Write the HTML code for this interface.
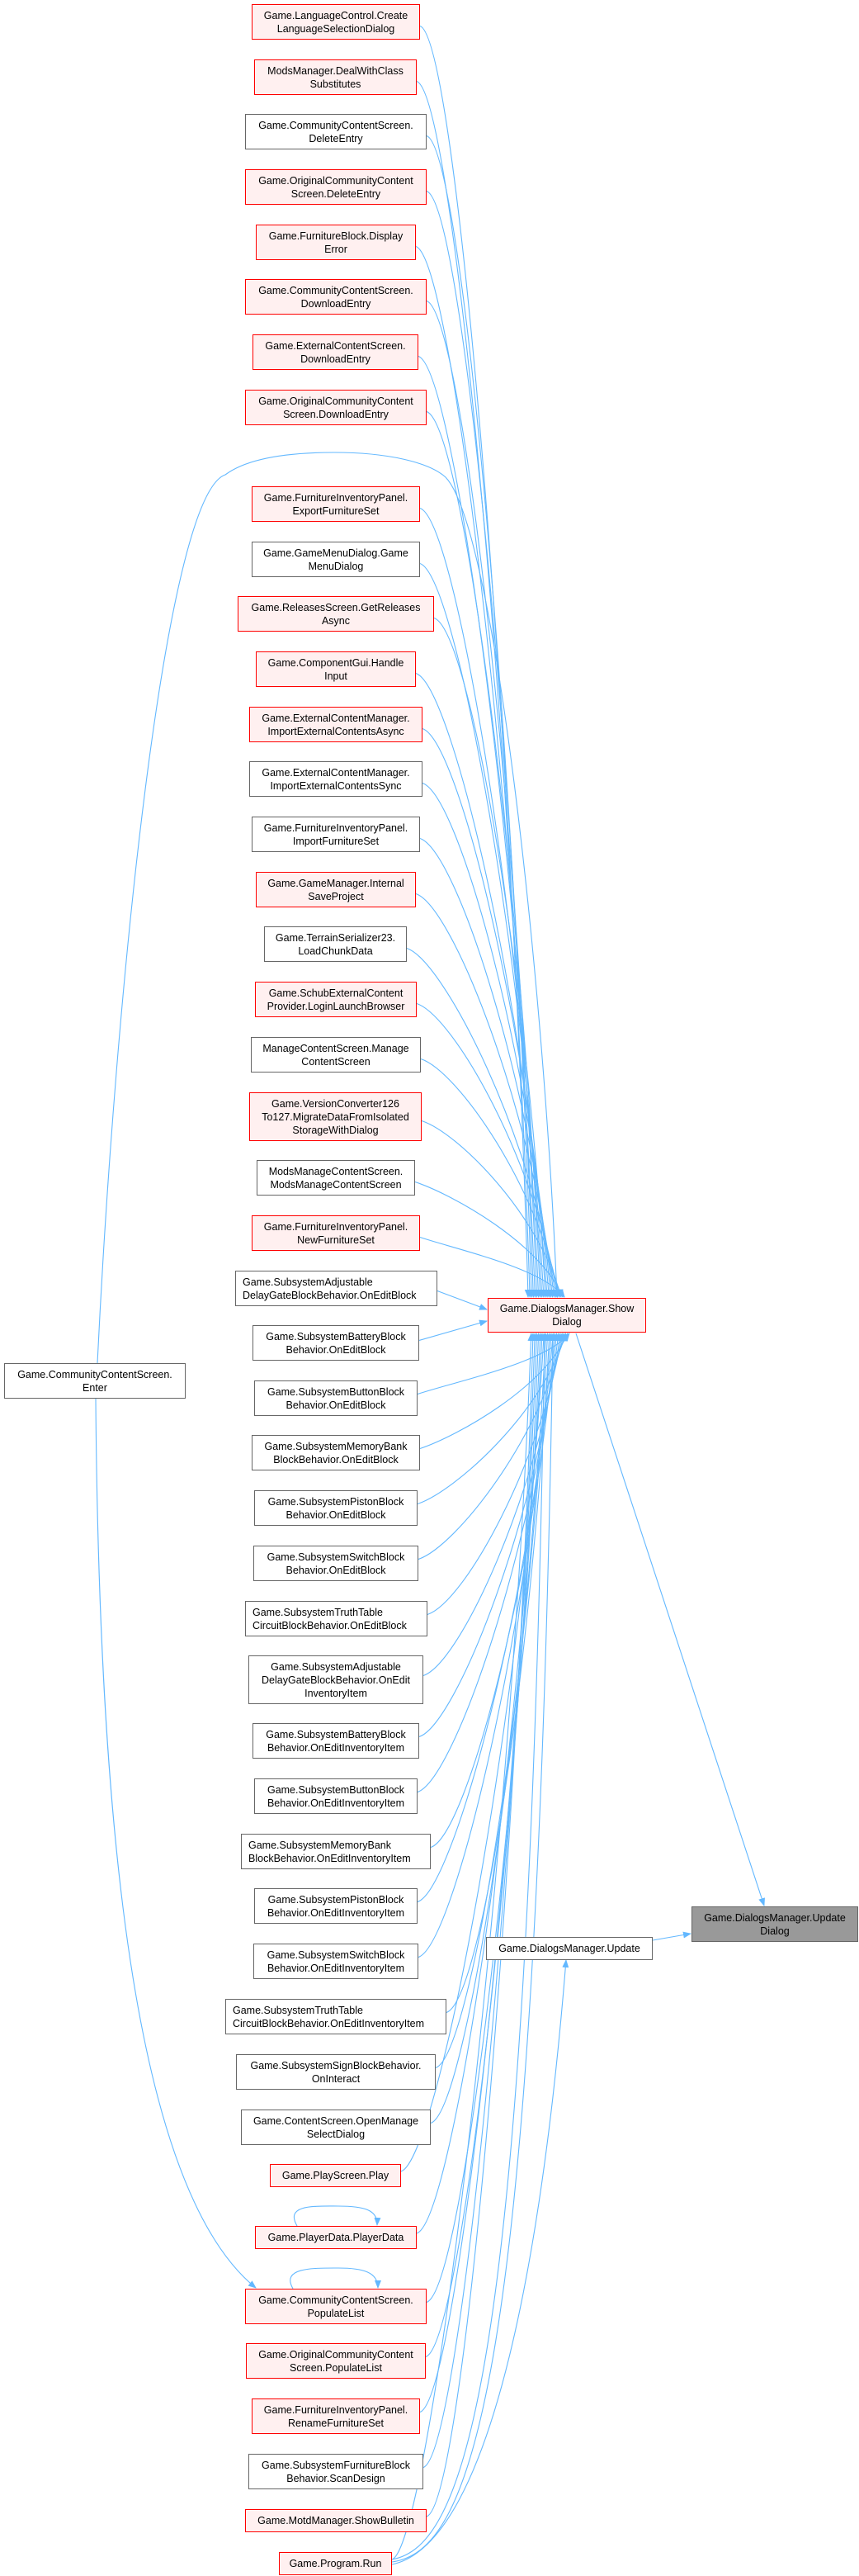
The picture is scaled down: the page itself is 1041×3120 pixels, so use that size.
<!DOCTYPE html>
<html><head><meta charset="utf-8">
<style>
html,body{margin:0;padding:0;background:#fff;}
#wrap{position:relative;width:1041px;height:3120px;overflow:hidden;}
svg{position:absolute;left:0;top:0;}
.n{position:absolute;box-sizing:border-box;border:1.3px solid #666;background:#fff;display:flex;flex-direction:column;justify-content:center;font-family:"Liberation Sans",Arial,sans-serif;font-size:12.5px;line-height:16px;color:#000;text-align:center;white-space:nowrap;padding:0 8px;}
.n.r{border-color:#ff0000;background:#fff0f0;}
.n.l{text-align:left;}
.n.g{background:#999;border-color:#666;}
</style></head><body>
<div id="wrap">
<svg id="s" width="1041" height="3120" xmlns="http://www.w3.org/2000/svg">
<defs><marker id="a" markerWidth="10" markerHeight="8" refX="9" refY="4" orient="auto" markerUnits="userSpaceOnUse"><path d="M0,0 L10,4 L0,8 z" fill="#63b8ff"/></marker></defs>
<g id="e" fill="none" stroke="#63b8ff" stroke-width="1.1"></g>
</svg>
</div>
<script>
var N=[
[5,305,509,["Game.LanguageControl.Create","LanguageSelectionDialog"],1],
[72,308,505,["ModsManager.DealWithClass","Substitutes"],1],
[138,297,517,["Game.CommunityContentScreen.","DeleteEntry"],0],
[205,297,517,["Game.OriginalCommunityContent","Screen.DeleteEntry"],1],
[272,310,504,["Game.FurnitureBlock.Display","Error"],1],
[338,297,517,["Game.CommunityContentScreen.","DownloadEntry"],1],
[405,306,507,["Game.ExternalContentScreen.","DownloadEntry"],1],
[472,297,517,["Game.OriginalCommunityContent","Screen.DownloadEntry"],1],
[589,305,509,["Game.FurnitureInventoryPanel.","ExportFurnitureSet"],1],
[656,305,509,["Game.GameMenuDialog.Game","MenuDialog"],0],
[722,288,526,["Game.ReleasesScreen.GetReleases","Async"],1],
[789,310,504,["Game.ComponentGui.Handle","Input"],1],
[856,302,512,["Game.ExternalContentManager.","ImportExternalContentsAsync"],1],
[922,302,512,["Game.ExternalContentManager.","ImportExternalContentsSync"],0],
[989,305,509,["Game.FurnitureInventoryPanel.","ImportFurnitureSet"],0],
[1056,310,504,["Game.GameManager.Internal","SaveProject"],1],
[1122,320,493,["Game.TerrainSerializer23.","LoadChunkData"],0],
[1189,309,505,["Game.SchubExternalContent","Provider.LoginLaunchBrowser"],1],
[1256,304,510,["ManageContentScreen.Manage","ContentScreen"],0],
[1323,302,511,["Game.VersionConverter126","To127.MigrateDataFromIsolated","StorageWithDialog"],1],
[1405,311,503,["ModsManageContentScreen.","ModsManageContentScreen"],0],
[1472,305,509,["Game.FurnitureInventoryPanel.","NewFurnitureSet"],1],
[1539,285,530,["Game.SubsystemAdjustable","DelayGateBlockBehavior.OnEditBlock"],0,1],
[1605,306,508,["Game.SubsystemBatteryBlock","Behavior.OnEditBlock"],0],
[1672,308,506,["Game.SubsystemButtonBlock","Behavior.OnEditBlock"],0],
[1738,305,509,["Game.SubsystemMemoryBank","BlockBehavior.OnEditBlock"],0],
[1805,308,506,["Game.SubsystemPistonBlock","Behavior.OnEditBlock"],0],
[1872,307,507,["Game.SubsystemSwitchBlock","Behavior.OnEditBlock"],0],
[1939,297,518,["Game.SubsystemTruthTable","CircuitBlockBehavior.OnEditBlock"],0,1],
[2005,301,513,["Game.SubsystemAdjustable","DelayGateBlockBehavior.OnEdit","InventoryItem"],0],
[2087,306,508,["Game.SubsystemBatteryBlock","Behavior.OnEditInventoryItem"],0],
[2154,308,506,["Game.SubsystemButtonBlock","Behavior.OnEditInventoryItem"],0],
[2221,292,522,["Game.SubsystemMemoryBank","BlockBehavior.OnEditInventoryItem"],0,1],
[2287,308,506,["Game.SubsystemPistonBlock","Behavior.OnEditInventoryItem"],0],
[2354,307,507,["Game.SubsystemSwitchBlock","Behavior.OnEditInventoryItem"],0],
[2421,273,541,["Game.SubsystemTruthTable","CircuitBlockBehavior.OnEditInventoryItem"],0,1],
[2488,286,528,["Game.SubsystemSignBlockBehavior.","OnInteract"],0],
[2555,292,522,["Game.ContentScreen.OpenManage","SelectDialog"],0],
[2621,327,486,["Game.PlayScreen.Play"],1],
[2696,309,505,["Game.PlayerData.PlayerData"],1],
[2772,297,517,["Game.CommunityContentScreen.","PopulateList"],1],
[2838,298,516,["Game.OriginalCommunityContent","Screen.PopulateList"],1],
[2905,305,509,["Game.FurnitureInventoryPanel.","RenameFurnitureSet"],1],
[2972,301,513,["Game.SubsystemFurnitureBlock","Behavior.ScanDesign"],0],
[3039,297,517,["Game.MotdManager.ShowBulletin"],1],
[3091,338,475,["Game.Program.Run"],1]
];
var W=document.getElementById('wrap'),E=document.getElementById('e');
function box(t,l,r,lines,cls,h){var d=document.createElement('div');d.className='n '+cls;d.style.left=l+'px';d.style.top=t+'px';d.style.width=(r-l)+'px';d.style.height=h+'px';d.innerHTML=lines.join('<br>');W.appendChild(d);}
function path(d,arrow){var p=document.createElementNS('http://www.w3.org/2000/svg','path');p.setAttribute('d',d);if(arrow)p.setAttribute('marker-end','url(#a)');E.appendChild(p);}
var SD={l:591,r:783,t:1572,b:1614};
var above=0,below=0;
N.forEach(function(n,i){
 var h=n[3].length==1?28:(n[3].length==2?43:59);
 box(n[0],n[1],n[2],n[3],(n[4]?'r':'')+(n[5]?' l':''),h);
 var cy=n[0]+h/2, rx=n[2];
 if(i==22){path('M'+rx+','+(cy+3)+' L'+(SD.l-1)+','+(SD.t+14),1);return;}
 if(i==23){path('M'+rx+','+(cy-3)+' L'+(SD.l-1)+','+(SD.t+28),1);return;}
 if(cy<SD.t){
  var tx=640+Math.min(45,(i)*2.1), ty=SD.t-1;
  var dy=ty-cy;
  path('M'+rx+','+(cy+5)+' C'+(rx+45)+','+(cy+20)+' '+(tx-(tx-rx)*0.15)+','+(ty-dy*0.45)+' '+tx+','+ty,1);
 } else {
  var tx2=690-Math.min(50,(i-24)*2.2), ty2=SD.b+1;
  var dy2=cy-ty2;
  path('M'+rx+','+(cy-5)+' C'+(rx+45)+','+(cy-20)+' '+(tx2-(tx2-rx)*0.15)+','+(ty2+dy2*0.45)+' '+tx2+','+ty2,1);
 }
});
// extra Program.Run edges
path('M475,3100 C560,3085 640,2900 660,1616',0);
path('M475,3103 C570,3090 650,2900 670,1616',0);
path('M475,3106 C600,3080 660,2700 686,2374',1);
// Enter node
box(1651,5,225,["Game.CommunityContentScreen.","Enter"],'',43);
path('M118,1651 C140,1200 200,600 273,575 C300,555 350,548 405,548 C470,548 520,560 540,578 C600,640 660,1200 675,1571',1);
path('M116,1694 C120,2200 160,2650 310,2771',1);
// self loops
path('M360,2696 C345,2670 380,2672 410,2672 C440,2672 458,2676 457,2695',1);
path('M355,2772 C340,2746 380,2747 410,2747 C440,2747 458,2752 458,2771',1);
// ShowDialog
box(SD.t,SD.l,SD.r,["Game.DialogsManager.Show","Dialog"],'r',42);
path('M698,1615 L926,2308',1);
// DialogsManager.Update
box(2346,589,791,["Game.DialogsManager.Update"],'',28);
path('M791,2350 L837,2342',1);
box(2309,838,1040,["Game.DialogsManager.Update","Dialog"],'g',43);
</script>
</body></html>
